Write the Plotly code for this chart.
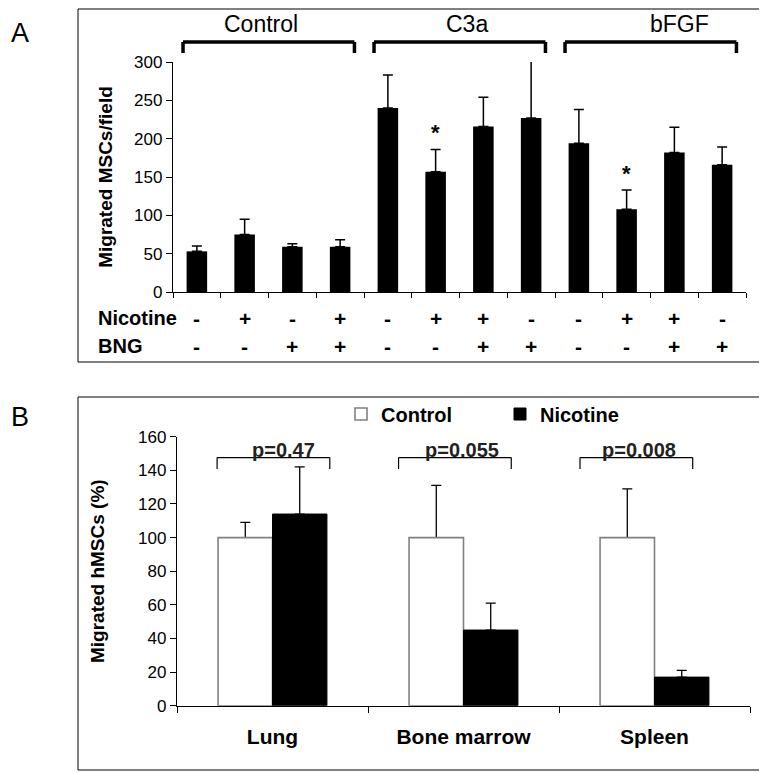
import plotly.graph_objects as go

W, H = 767, 773
# the page places the figure 8px from the top-left corner of the window
OX, OY = 8, 8
def px(x):
    return (x - OX) / W
def py(y):
    return 1 - (y - OY) / H

# ---------------- Panel A data ----------------
groups = ["Control", "C3a", "bFGF"]
conditions = [f"{g} {k}" for g in groups for k in range(1, 5)]
nicotine_sign = ["-", "+", "-", "+", "-", "+", "+", "-", "-", "+", "+", "-"]
bng_sign = ["-", "-", "+", "+", "-", "-", "+", "+", "-", "-", "+", "+"]
migrated_msc = [53, 75, 59, 59, 240, 157, 216, 227, 194, 108, 182, 166]
migrated_msc_err = [7, 20, 4, 9, 43, 29, 38, 75, 44, 25, 33, 23]
starred = [5, 9]

# ---------------- Panel B data ----------------
organs = ["Lung", "Bone marrow", "Spleen"]
control_pct = [100, 100, 100]
control_err = [9, 31, 29]
nicotine_pct = [114, 45, 17]
nicotine_err = [28, 16, 4]
p_values = ["p=0.47", "p=0.055", "p=0.008"]

FONT = "Liberation Sans, Arial, sans-serif"

fig = go.Figure()

fig.add_trace(go.Bar(
    x=conditions, y=migrated_msc, width=0.43,
    marker=dict(color="black", line=dict(width=0)),
    error_y=dict(type="data", symmetric=False, array=migrated_msc_err,
                 arrayminus=[0] * len(migrated_msc), color="black",
                 thickness=1.5, width=5),
    xaxis="x", yaxis="y", showlegend=False))

# control error bars drawn underneath the white bars (so only the upper whisker shows)
fig.add_trace(go.Bar(
    x=organs, y=control_pct, offsetgroup="ctl", showlegend=False, hoverinfo="skip",
    marker=dict(color="rgba(0,0,0,0)", line=dict(width=0)),
    error_y=dict(type="data", symmetric=False, array=control_err,
                 arrayminus=[0] * 3, color="black", thickness=1.3, width=5),
    xaxis="x2", yaxis="y2"))
fig.add_trace(go.Bar(
    x=organs, y=control_pct, name="Control", offsetgroup="ctl",
    marker=dict(color="white", line=dict(color="#808080", width=1.6)),
    xaxis="x2", yaxis="y2"))
fig.add_trace(go.Bar(
    x=organs, y=nicotine_pct, name="Nicotine", offsetgroup="nic",
    marker=dict(color="black", line=dict(color="black", width=1)),
    error_y=dict(type="data", symmetric=False, array=nicotine_err,
                 arrayminus=[0] * 3, color="black", thickness=1.3, width=5),
    xaxis="x2", yaxis="y2"))

annotations = []
shapes = []

def note(text, x, y, xref="paper", yref="paper", size=20, xanchor="center", **kw):
    annotations.append(dict(text=text, x=x, y=y, xref=xref, yref=yref, showarrow=False,
                            xanchor=xanchor, yanchor="middle",
                            font=dict(size=size, family=FONT, color=kw.pop("color", "black")), **kw))

# Panel letters
note("A", px(9), py(33), size=27, xanchor="left")
note("B", px(9), py(417), size=27, xanchor="left")

# Group labels and brackets (panel A)
label_pos = [1.35, 5.65, 10.1]
for j, g in enumerate(groups):
    note(g, label_pos[j], py(24), xref="x", size=23)
    x0 = 4 * j - 0.29
    x1 = 4 * j + 3 + 0.30
    for (xa, ya, xb, yb) in [(x0, py(53), x0, py(42)), (x0, py(42), x1, py(42)), (x1, py(42), x1, py(53))]:
        shapes.append(dict(type="line", xref="x", yref="paper", x0=xa, y0=ya, x1=xb, y1=yb,
                           line=dict(color="black", width=3.5)))

# Asterisks
for i in starred:
    note("<b>*</b>", conditions[i], migrated_msc[i] + migrated_msc_err[i] + 22, xref="x", yref="y", size=22)

# Nicotine / BNG rows
note("<b>Nicotine</b>", px(96), py(318), xanchor="left", size=20)
note("<b>BNG</b>", px(96), py(346), xanchor="left", size=20)
for i, c in enumerate(conditions):
    note(f"<b>{nicotine_sign[i]}</b>", c, py(318), xref="x", size=21)
    note(f"<b>{bng_sign[i]}</b>", c, py(346), xref="x", size=21)

# p-value brackets (panel B)
bracket_x = [(-0.29, 0.30), (-0.34, 0.25), (-0.39, 0.20)]
p_text_x = [0.06, -0.01, -0.08]
for k, org in enumerate(organs):
    a, b = bracket_x[k]
    for (xa, ya, xb, yb) in [(k + a, 140.8, k + a, 147.6), (k + a, 147.6, k + b, 147.6), (k + b, 147.6, k + b, 140.8)]:
        shapes.append(dict(type="line", xref="x2", yref="y2", x0=xa, y0=ya, x1=xb, y1=yb,
                           line=dict(color="black", width=1.2)))
    note(f"<b>{p_values[k]}</b>", k + p_text_x[k], 152.0, xref="x2", yref="y2", size=20, color="#222222")

# Frames
shapes.append(dict(type="rect", xref="paper", yref="paper", x0=px(78), x1=px(760), y0=py(362), y1=py(9),
                   line=dict(color="black", width=1)))
shapes.append(dict(type="rect", xref="paper", yref="paper", x0=px(78), x1=px(763), y0=py(770), y1=py(397),
                   line=dict(color="black", width=1)))

axis_common = dict(showline=True, linecolor="black", linewidth=1.3, ticks="outside",
                   tickcolor="black", showgrid=False, zeroline=False, automargin=False)

fig.update_layout(
    width=W, height=H,
    margin=dict(l=0, r=0, t=0, b=0, autoexpand=False),
    paper_bgcolor="white", plot_bgcolor="white",
    font=dict(family=FONT, color="black"),
    barmode="group", bargap=0.43, bargroupgap=0,
    xaxis=dict(domain=[px(173), px(746)], anchor="y", type="category", range=[-0.5, 11.5],
               tickson="boundaries", ticklen=5, showticklabels=False, **axis_common),
    yaxis=dict(domain=[py(292), py(62)], anchor="x", range=[0, 300], dtick=50, ticklen=6,
               tickfont=dict(size=17), title=dict(text="<b>Migrated MSCs/field</b>", font=dict(size=19), standoff=16),
               **axis_common),
    xaxis2=dict(domain=[px(177), px(750)], anchor="y2", type="category", range=[-0.5, 2.5],
                tickson="boundaries", ticklen=6, ticklabelstandoff=12,
                tickfont=dict(size=21, weight="bold"), **axis_common),
    yaxis2=dict(domain=[py(705.7), py(436.7)], anchor="x2", range=[0, 160], dtick=20, ticklen=6,
                tickfont=dict(size=17), title=dict(text="<b>Migrated hMSCs (%)</b>", font=dict(size=19), standoff=28),
                **axis_common),
    legend=dict(orientation="h", x=px(341), y=py(414), xanchor="left", yanchor="middle",
                font=dict(size=20, weight="bold"), entrywidth=114, entrywidthmode="pixels",
                bgcolor="rgba(0,0,0,0)", traceorder="normal"),
    annotations=annotations,
    shapes=shapes,
)

fig.write_html("out.html")
